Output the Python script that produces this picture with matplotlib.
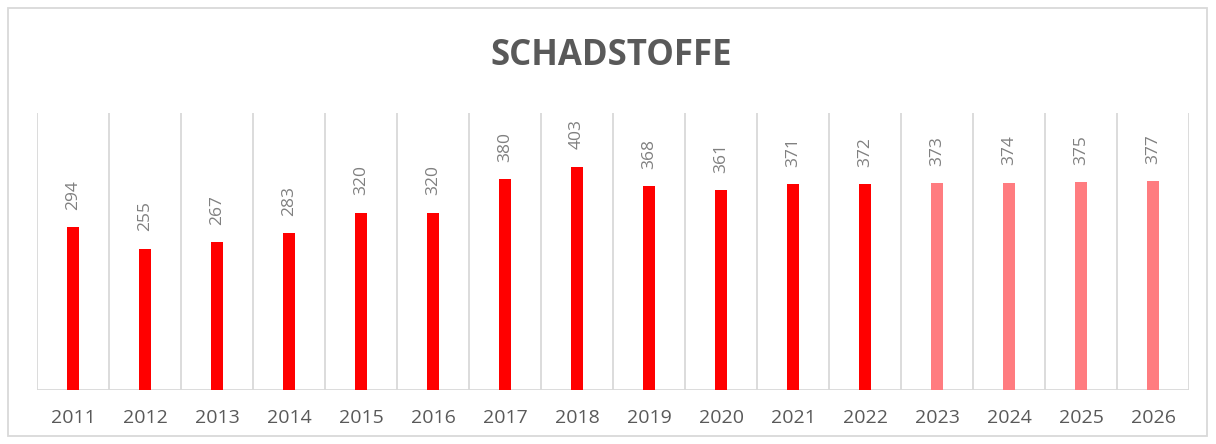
import matplotlib.pyplot as plt
from matplotlib.patches import Rectangle
import numpy as np

years = ["2011", "2012", "2013", "2014", "2015", "2016", "2017", "2018",
         "2019", "2020", "2021", "2022", "2023", "2024", "2025", "2026"]
values = [294, 255, 267, 283, 320, 320, 380, 403,
          368, 361, 371, 372, 373, 374, 375, 377]
forecast = [False] * 12 + [True] * 4

plt.rcParams["font.family"] = ["Open Sans", "DejaVu Sans"]

fig = plt.figure(figsize=(12.16, 4.44), dpi=100)
ax = fig.add_axes([37 / 1216, 54 / 444, 1152 / 1216, 277 / 444])

x = np.arange(len(years))
colors = ["#FF7C80" if f else "#FF0000" for f in forecast]
ax.bar(x, values, width=0.18, color=colors, zorder=3)

for xi, v in zip(x, values):
    ax.annotate(str(v), (xi, v), xytext=(0, 12.5), textcoords="offset points",
                rotation=90, ha="center", va="bottom", fontsize=12.5,
                color="#808080")

# category separators
for b in np.arange(-0.5, len(years), 1.0):
    ax.axvline(b, color="#D9D9D9", lw=1.3, zorder=1)
ax.axhline(0, color="#D9D9D9", lw=1.3, zorder=2)

ax.set_xlim(-0.5, len(years) - 0.5)
ax.set_ylim(0, 500)
ax.set_xticks(x)
ax.set_xticklabels(years, fontsize=14, color="#595959")
ax.tick_params(axis="x", length=0, pad=14)
ax.set_yticks([])
for s in ax.spines.values():
    s.set_visible(False)

fig.text(611 / 1216, 1 - 56 / 444, "SCHADSTOFFE", ha="center", va="center",
         fontsize=25, fontweight="bold", color="#595959")

# chart border
fig.patches.append(Rectangle((8 / 1216, 8 / 444), 1199 / 1216, 428 / 444,
                             transform=fig.transFigure, fill=False,
                             edgecolor="#D9D9D9", lw=1.3))

fig.savefig("out.png", dpi=100)
